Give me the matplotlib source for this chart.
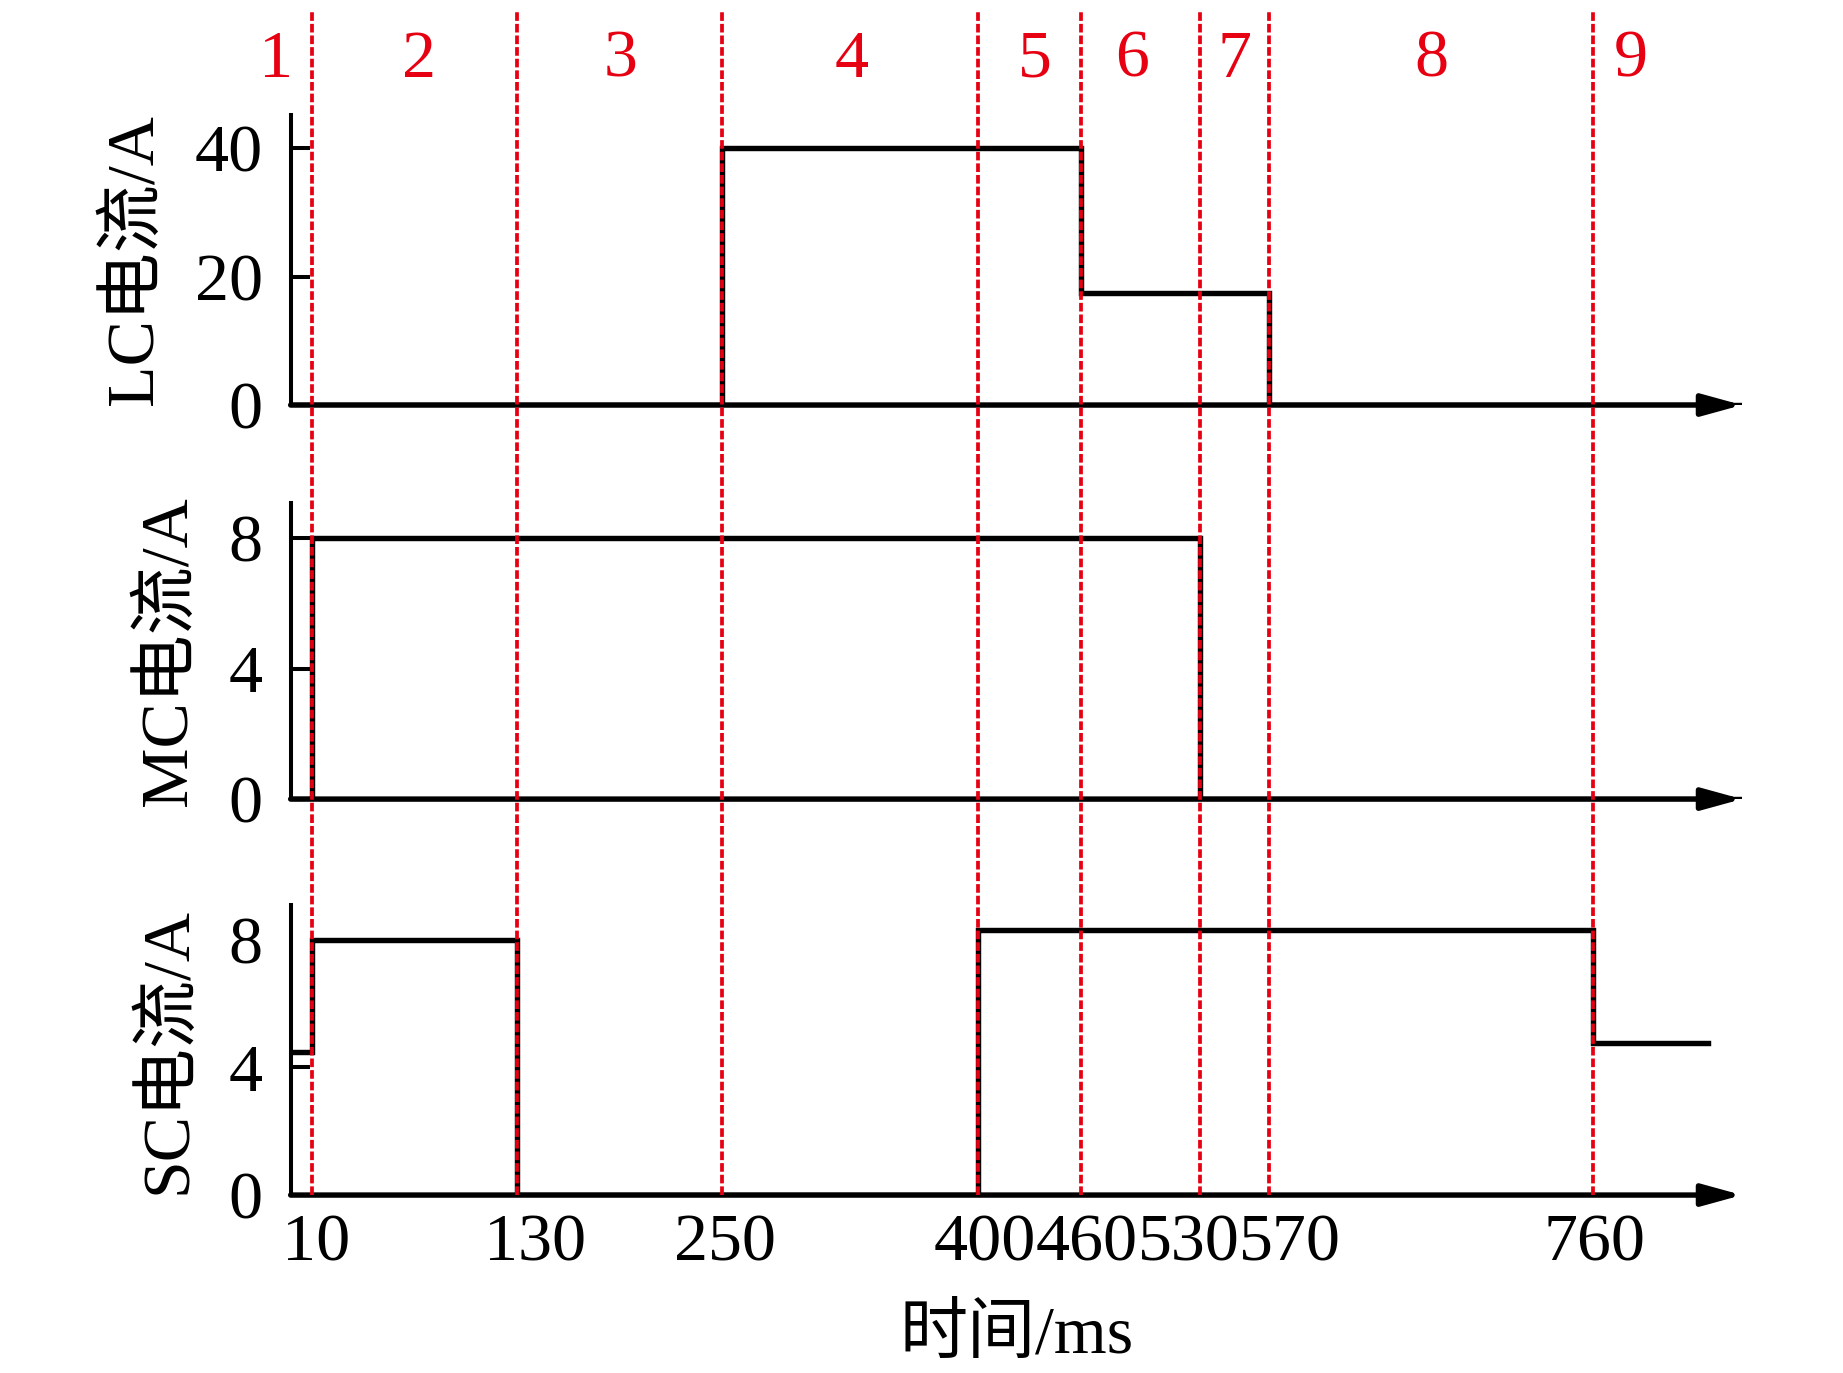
import matplotlib
matplotlib.use('Agg')
import matplotlib.pyplot as plt
from matplotlib.lines import Line2D
from matplotlib.transforms import blended_transform_factory, ScaledTranslation

plt.rcParams['font.family'] = ['Liberation Serif', 'Noto Sans CJK SC']
plt.rcParams['font.size'] = 49

# stage boundaries (ms) and stage numbers above the plot
bounds = [10, 130, 250, 400, 460, 530, 570, 760]
stage_labels = ['1', '2', '3', '4', '5', '6', '7', '8', '9']
stage_label_t = [-11, 73, 191, 326, 433, 490, 550, 665, 782]

# step currents: breakpoint times (ms) and level after each breakpoint (A)
lc_t = [0, 250, 460, 570, 847]
lc_i = [0, 40, 17.5, 0, 0]
mc_t = [0, 10, 530, 847]
mc_i = [0, 8, 0, 0]
sc_t = [0, 10, 130, 400, 760, 827]
sc_i = [4.49, 8.0, 0, 8.3, 4.76, 4.76]

ylabels = ['LC电流/A', 'MC电流/A', 'SC电流/A']
yticks = [[0, 20, 40], [0, 4, 8], [0, 4, 8]]
ytops = [45.2, 9.08, 9.09]
series = [(lc_t, lc_i), (mc_t, mc_i), (sc_t, sc_i)]

XMIN, XMAX = -2.3, 847
RED = '#e60012'

fig = plt.figure(figsize=(18.43, 13.73), dpi=100)
rects = [[0.1577, 0.705, 0.7875, 0.2112],
         [0.1577, 0.418, 0.7875, 0.2156],
         [0.1577, 0.1296, 0.7875, 0.2113]]

axes = []
for k in range(3):
    ax = fig.add_axes(rects[k])
    t, i = series[k]
    ax.step(t, i, where='post', color='black', lw=3.9, zorder=3,
            solid_joinstyle='miter')
    ax.set_xlim(XMIN, XMAX)
    ax.set_ylim(0, ytops[k])
    ax.set_yticks(yticks[k])
    ax.tick_params(axis='y', direction='in', length=13.7, width=2.9, pad=20)
    for s in ['top', 'right', 'bottom']:
        ax.spines[s].set_visible(False)
    ax.spines['left'].set_linewidth(2.9)
    ax.set_ylabel(ylabels[k], labelpad=21)
    # x axis with arrow head
    ax.annotate('', xy=(1, 0), xytext=(0, 0), xycoords='axes fraction',
                arrowprops=dict(arrowstyle='-|>,head_length=0.4,head_width=0.11',
                                color='black', lw=3.9, mutation_scale=60,
                                shrinkA=0, shrinkB=0))
    axes.append(ax)

for ax in axes[:2]:
    ax.set_xticks([])

ax_bot = axes[2]
ax_bot.set_xticks(bounds)
ax_bot.set_xticklabels([str(b) for b in bounds])
ax_bot.tick_params(axis='x', length=0, pad=13)
# labels nudged sideways so the crowded ones sit side by side
label_shift = [3.4, 13, 2.5, 5, 4, -8.5, 15, 0.8]
for lab, dx in zip(ax_bot.get_xticklabels(), label_shift):
    lab.set_transform(lab.get_transform() +
                      ScaledTranslation(dx / 72, 0, fig.dpi_scale_trans))
ax_bot.set_xlabel('时间/ms', labelpad=22)
# no tick mark drawn at 8 on the SC panel
ax_bot.yaxis.get_major_ticks()[-1].tick1line.set_visible(False)

# red dashed stage boundaries across all panels
inv = fig.transFigure.inverted()
for b in bounds:
    xf, yf = inv.transform(ax_bot.transData.transform((b, 0)))
    fig.add_artist(Line2D([xf, xf], [yf, 0.9927], transform=fig.transFigure,
                          color=RED, lw=2.7, linestyle=(0, (2.3, 0.8)), zorder=5))

trans = blended_transform_factory(axes[0].transData, fig.transFigure)
for t, lab in zip(stage_label_t, stage_labels):
    axes[0].text(t, 0.956, lab, transform=trans, color=RED,
                 ha='center', va='center', clip_on=False)

fig.savefig('out.png', dpi=100)
